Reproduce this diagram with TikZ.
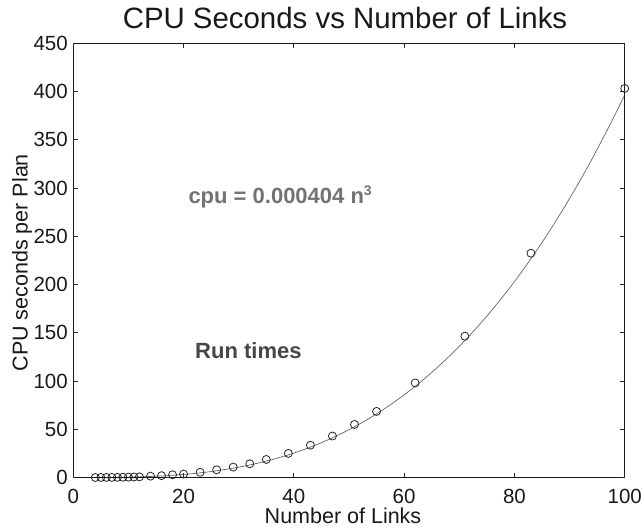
\documentclass[tikz,border=0pt]{standalone}
\usepackage{fontspec}
\setmainfont{Liberation Sans}
\begin{document}
\begin{tikzpicture}[x=1pt,y=1pt,
  axisline/.style={line width=1.1pt,draw=black!90},
  tickline/.style={line width=0.9pt,draw=black!85},
  ticklab/.style={inner sep=0pt,font=\fontsize{20.5}{20.5}\selectfont,text=black!90},
  axlab/.style={inner sep=0pt,font=\fontsize{21.5}{21.5}\selectfont,text=black!90},
  datapt/.style={draw=black!85,line width=0.8pt},
  fitline/.style={draw=black!60,line width=0.7pt},
  annot/.style={inner sep=0pt,font=\fontsize{22}{22}\selectfont\bfseries}]
\useasboundingbox (0,0) rectangle (644,531);
\fill[white] (0,0) rectangle (644,531);
% title
\node[inner sep=0pt,anchor=base,font=\fontsize{29.4}{29.4}\selectfont,text=black!90] (title) at (345,502.7) {CPU Seconds vs Number of Links};
% axis labels
\node[axlab,anchor=base] (xlab) at (343,7.7) {Number of Links};
\node[axlab,anchor=base west,rotate=90] (ylab) at (27.7,159.3) {CPU seconds per Plan};
\begin{scope}[shift={(73.3pt,53.5pt)},x=5.514pt,y=0.9647pt]
  % fit curve
  \draw[fitline,domain=4:100,samples=120,smooth] plot (\x,{0.000404*\x*\x*\x});
  % data
  \foreach \n/\v in {4/0.03,5/0.05,6/0.09,7/0.14,8/0.21,9/0.29,10/0.4,11/0.54,12/0.7,14/1.4,16/1.9,18/2.8,20/3.6,23/5.4,26/8.0,29/10.8,32/14.2,35/18.7,39/25.0,43/33.5,47/43.0,51/55.0,55/68.5,62/98.0,71/146.5,83/232.5,100/403.3}
    \draw[datapt] (\n,\v) circle (4pt);
  % box
  \draw[axisline] (0,0) rectangle (100,450);
  % x ticks
  \foreach \t in {0,20,40,60,80,100}{
    \draw[tickline] (\t,0) -- ++(0,4.6pt);
    \draw[tickline] (\t,450) -- ++(0,-4.6pt);
    \node[ticklab,anchor=base] (xt\t) at ([yshift=-25.8pt]\t,0) {\t};
  }
  % y ticks
  \foreach \t in {0,50,...,450}{
    \draw[tickline] (0,\t) -- ++(4.6pt,0);
    \draw[tickline] (100,\t) -- ++(-4.6pt,0);
    \node[ticklab,anchor=east] (yt\t) at ([xshift=-5.3pt]0,\t) {\t};
  }
\end{scope}
% annotations
\node[annot,anchor=base west,text=black!55] (eq) at (188.3,327.7) {cpu = 0.000404 n\raisebox{8.3pt}{\fontsize{14}{14}\selectfont 3}};
\node[annot,anchor=base west,text=black!72] (runt) at (195,172.7) {Run times};
\end{tikzpicture}
\end{document}
